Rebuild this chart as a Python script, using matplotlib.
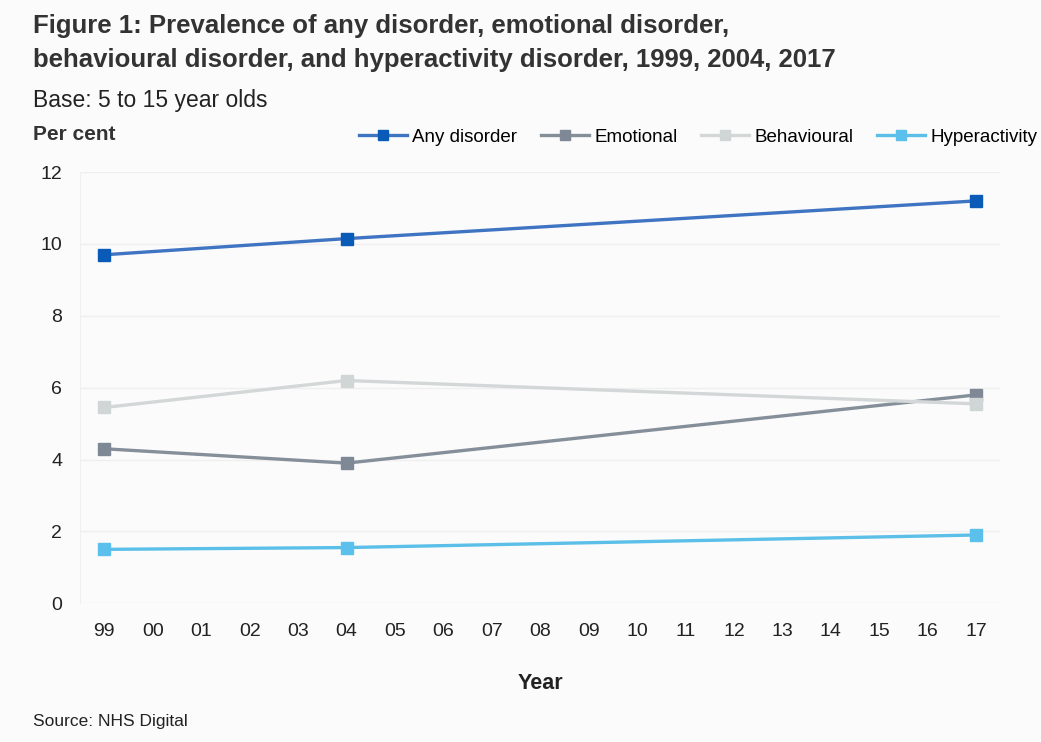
import numpy as np
import matplotlib.pyplot as plt

years = [1999, 2004, 2017]
any_disorder = [9.7, 10.15, 11.2]
emotional = [4.3, 3.9, 5.8]
behavioural = [5.45, 6.2, 5.55]
hyperactivity = [1.5, 1.55, 1.9]

tick_years = list(range(1999, 2018))
tick_labels = [str(y)[-2:] for y in tick_years]

plt.rcParams['font.family'] = ['Liberation Sans', 'DejaVu Sans']

bg = '#fbfbfb'
fig = plt.figure(figsize=(10.41, 7.42), dpi=100, facecolor=bg)
ax = fig.add_axes([0.077, 0.187, 0.884, 0.581], facecolor=bg)

series = [
    ("Any disorder", any_disorder, '#3f74c2', '#0a5bb8'),
    ("Emotional", emotional, '#858f9a', '#7f8995'),
    ("Behavioural", behavioural, '#d3d7d7', '#d0d5d5'),
    ("Hyperactivity", hyperactivity, '#5bbfe8', '#5bc0eb'),
]
for name, vals, lc, mc in series:
    ax.plot(years, vals, color=lc, lw=2.4, marker='s', ms=8.5,
            markerfacecolor=mc, markeredgecolor=mc, label=name, zorder=3)

ax.set_xlim(1998.5, 2017.5)
ax.set_ylim(0, 12)
ax.set_yticks(range(0, 13, 2))
ax.set_xticks(tick_years)
ax.set_xticklabels(tick_labels)
ax.grid(axis='y', color='#efefef', lw=1)
ax.set_axisbelow(True)
for s in ax.spines.values():
    s.set_visible(False)
ax.spines['left'].set_visible(True)
ax.spines['left'].set_color('#f0f0f0')
ax.tick_params(axis='both', length=0, labelsize=14, colors='#222222')
ax.tick_params(axis='y', pad=13)
ax.tick_params(axis='x', pad=14)
ax.set_xlabel('Year', fontsize=15.5, fontweight='bold', labelpad=24, color='#222222')

fig.text(0.032, 0.965, 'Figure 1: Prevalence of any disorder, emotional disorder,',
         fontsize=18.5, fontweight='bold', va='center', color='#333333')
fig.text(0.032, 0.919, 'behavioural disorder, and hyperactivity disorder, 1999, 2004, 2017',
         fontsize=18.5, fontweight='bold', va='center', color='#333333')
fig.text(0.032, 0.865, 'Base: 5 to 15 year olds', fontsize=16.5, va='center', color='#222222')
fig.text(0.032, 0.819, 'Per cent', fontsize=15, fontweight='bold', va='center', color='#333333')
fig.text(0.032, 0.027, 'Source: NHS Digital', fontsize=12.5, va='center', color='#222222')

fig.legend(loc='center right', bbox_to_anchor=(1037 / 1041, 1 - 137 / 742), ncol=4,
           frameon=False, fontsize=13.5, handlelength=2.6, handletextpad=0.25,
           columnspacing=1.25, markerscale=0.8, borderaxespad=0, borderpad=0)

fig.savefig('out.png', dpi=100, facecolor=bg)
